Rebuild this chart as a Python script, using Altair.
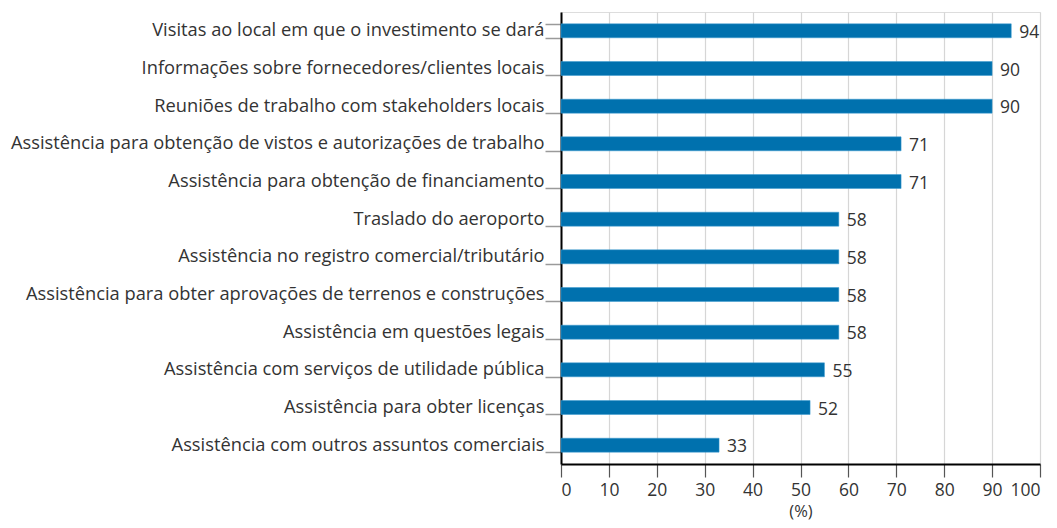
import altair as alt
import pandas as pd

categories = [
    "Visitas ao local em que o investimento se dará",
    "Informações sobre fornecedores/clientes locais",
    "Reuniões de trabalho com stakeholders locais",
    "Assistência para obtenção de vistos e autorizações de trabalho",
    "Assistência para obtenção de financiamento",
    "Traslado do aeroporto",
    "Assistência no registro comercial/tributário",
    "Assistência para obter aprovações de terrenos e construções",
    "Assistência em questões legais",
    "Assistência com serviços de utilidade pública",
    "Assistência para obter licenças",
    "Assistência com outros assuntos comerciais",
]
values = [94, 90, 90, 71, 71, 58, 58, 58, 58, 55, 52, 33]

df = pd.DataFrame({"cat": categories, "val": values})

FONT = "Open Sans"
BLUE = "#0071ae"
TXT = "#333333"

y = alt.Y("cat:N", sort=categories, title=None,
          scale=alt.Scale(paddingInner=0.63, paddingOuter=0.315),
          axis=alt.Axis(domainColor="black", domainWidth=2, tickColor="#9a9a9a",
                        tickSize=16, tickWidth=1.5, tickBand="extent", labelPadding=1,
                        labelFont=FONT, labelFontSize=18.3, labelColor=TXT,
                        labelLimit=800, grid=False))
x = alt.X("val:Q", title="(%)", scale=alt.Scale(domain=[0, 100], nice=False),
          axis=alt.Axis(values=list(range(0, 101, 10)), domainColor="black", domainWidth=2,
                        tickColor="#555555", tickSize=13, tickWidth=1.2, labelPadding=4,
                        labelFont=FONT, labelFontSize=17.5, labelColor=TXT,
                        titleFont=FONT, titleFontSize=16.5, titleFontWeight="normal",
                        titleColor=TXT, titlePadding=5,
                        gridColor="#d6d6d6", gridWidth=1.2))

base = alt.Chart(df).encode(y=y, x=x)
bars = base.mark_bar(color=BLUE, stroke="#3a9ad0", strokeWidth=0.5)
labels = base.mark_text(align="left", baseline="middle", dx=8, dy=2, font=FONT,
                        fontSize=17.5, color=TXT).encode(text="val:Q")

chart = (bars + labels).properties(
    width=1041, height=512,
    padding={"left": 2, "top": -6, "right": 8, "bottom": 0},
    autosize=alt.AutoSizeParams(type="fit", contains="padding"),
).configure_view(stroke=None).configure(background="white")

chart.save("out.html", embed_options={"renderer": "svg", "actions": False})
